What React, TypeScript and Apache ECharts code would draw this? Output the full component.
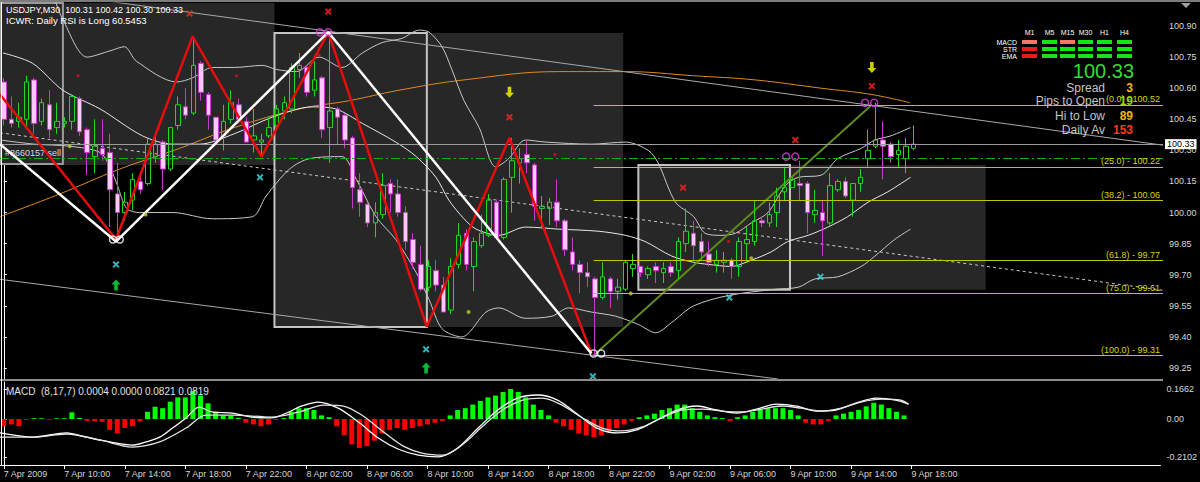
import React, { useEffect, useRef } from "react";
import * as echarts from "echarts";

const FONT = '"Liberation Sans", Arial, sans-serif';

// ---------- axis / tick labels ----------
const timeLabels = ["7 Apr 2009", "7 Apr 10:00", "7 Apr 14:00", "7 Apr 18:00", "7 Apr 22:00", "8 Apr 02:00", "8 Apr 06:00", "8 Apr 10:00", "8 Apr 14:00", "8 Apr 18:00", "8 Apr 22:00", "9 Apr 02:00", "9 Apr 06:00", "9 Apr 10:00", "9 Apr 14:00", "9 Apr 18:00"];
const barsPerLabel = 8;
const priceTicks = [99.25, 99.4, 99.55, 99.7, 99.85, 100.0, 100.15, 100.3, 100.45, 100.6, 100.75, 100.9];
const macdTicks = [-0.2102, 0, 0.1662];

// ---------- candles: [open, close, low, high] (M30 bars) ----------
const candles = [
  [100.63, 100.45, 100.42, 100.65], [100.45, 100.43, 100.41, 100.56], [100.44, 100.46, 100.41, 100.53], [100.45, 100.63, 100.41, 100.66],
  [100.64, 100.43, 100.38, 100.65], [100.44, 100.53, 100.42, 100.55], [100.52, 100.40, 100.36, 100.59], [100.41, 100.44, 100.38, 100.53],
  [100.43, 100.44, 100.41, 100.46], [100.44, 100.56, 100.40, 100.57], [100.55, 100.39, 100.37, 100.56], [100.40, 100.29, 100.18, 100.41],
  [100.27, 100.32, 100.19, 100.45], [100.31, 100.28, 100.25, 100.45], [100.29, 100.11, 99.93, 100.38], [100.09, 100.00, 99.87, 100.24],
  [100.00, 100.05, 99.96, 100.10], [100.06, 100.16, 100.01, 100.19], [100.15, 100.11, 100.09, 100.19], [100.14, 100.33, 100.13, 100.36],
  [100.27, 100.33, 100.24, 100.37], [100.34, 100.21, 100.11, 100.35], [100.21, 100.41, 100.20, 100.41], [100.42, 100.52, 100.40, 100.56],
  [100.51, 100.47, 100.45, 100.60], [100.48, 100.71, 100.47, 100.85], [100.72, 100.58, 100.54, 100.73], [100.57, 100.47, 100.40, 100.58],
  [100.46, 100.35, 100.33, 100.46], [100.37, 100.44, 100.30, 100.52], [100.45, 100.53, 100.43, 100.59], [100.52, 100.45, 100.43, 100.55],
  [100.44, 100.34, 100.34, 100.46], [100.35, 100.37, 100.29, 100.50], [100.34, 100.35, 100.27, 100.38], [100.37, 100.41, 100.36, 100.46],
  [100.42, 100.50, 100.40, 100.52], [100.49, 100.53, 100.45, 100.56], [100.50, 100.70, 100.48, 100.72], [100.69, 100.71, 100.65, 100.77],
  [100.70, 100.58, 100.56, 100.71], [100.59, 100.64, 100.56, 100.73], [100.65, 100.40, 100.36, 100.66], [100.41, 100.49, 100.24, 100.87],
  [100.50, 100.46, 100.33, 100.51], [100.47, 100.35, 100.31, 100.48], [100.36, 100.12, 100.02, 100.37], [100.11, 100.05, 99.98, 100.19],
  [100.04, 99.95, 99.93, 100.05], [99.95, 100.00, 99.88, 100.05], [99.99, 100.13, 99.97, 100.19], [100.14, 100.09, 100.00, 100.16],
  [100.09, 100.00, 99.98, 100.16], [100.00, 99.86, 99.82, 100.03], [99.87, 99.76, 99.73, 99.90], [99.75, 99.63, 99.62, 99.84],
  [99.64, 99.74, 99.62, 99.77], [99.72, 99.65, 99.62, 99.77], [99.65, 99.52, 99.52, 99.69], [99.53, 99.74, 99.51, 99.78],
  [99.75, 99.89, 99.73, 99.95], [99.90, 99.75, 99.72, 99.92], [99.74, 99.86, 99.62, 99.88], [99.84, 99.90, 99.83, 99.99],
  [99.89, 100.06, 99.88, 100.09], [100.05, 99.88, 99.87, 100.06], [99.88, 100.16, 99.87, 100.17], [100.17, 100.25, 100.00, 100.36],
  [100.24, 100.26, 100.14, 100.31], [100.28, 100.24, 100.19, 100.35], [100.23, 100.03, 99.96, 100.24], [100.02, 100.03, 99.93, 100.08],
  [100.02, 100.05, 99.94, 100.07], [100.05, 99.96, 99.93, 100.16], [99.96, 99.82, 99.79, 99.97], [99.81, 99.75, 99.72, 99.88],
  [99.75, 99.71, 99.61, 99.77], [99.71, 99.69, 99.64, 99.76], [99.68, 99.59, 99.31, 99.69], [99.59, 99.69, 99.58, 99.76],
  [99.68, 99.62, 99.54, 99.69], [99.62, 99.64, 99.58, 99.68], [99.63, 99.76, 99.62, 99.77], [99.73, 99.75, 99.69, 99.80],
  [99.74, 99.71, 99.69, 99.74], [99.70, 99.73, 99.68, 99.74], [99.74, 99.72, 99.66, 99.76], [99.71, 99.73, 99.66, 99.76],
  [99.74, 99.71, 99.69, 99.76], [99.72, 99.86, 99.68, 99.88], [99.85, 99.91, 99.81, 100.02], [99.90, 99.84, 99.77, 99.96],
  [99.86, 99.81, 99.77, 99.90], [99.80, 99.76, 99.74, 99.86], [99.75, 99.77, 99.71, 99.82], [99.76, 99.77, 99.71, 99.81],
  [99.77, 99.74, 99.68, 99.78], [99.74, 99.86, 99.69, 99.88], [99.85, 99.87, 99.76, 99.93], [99.86, 99.96, 99.84, 100.06],
  [99.96, 99.95, 99.93, 99.98], [99.95, 99.99, 99.93, 100.05], [100.00, 100.08, 99.93, 100.12], [100.10, 100.12, 100.06, 100.22],
  [100.12, 100.16, 100.12, 100.17], [100.14, 100.13, 100.06, 100.25], [100.14, 100.00, 99.90, 100.15], [99.99, 100.01, 99.95, 100.11],
  [100.00, 99.96, 99.79, 100.06], [99.95, 100.13, 99.94, 100.19], [100.11, 100.15, 100.10, 100.16], [100.15, 100.08, 100.07, 100.17],
  [100.06, 100.14, 99.98, 100.14], [100.14, 100.17, 100.10, 100.21], [100.26, 100.30, 100.22, 100.40], [100.32, 100.35, 100.31, 100.53],
  [100.35, 100.32, 100.16, 100.44], [100.33, 100.27, 100.24, 100.34], [100.28, 100.30, 100.22, 100.35], [100.26, 100.32, 100.19, 100.36],
  [100.31, 100.33, 100.30, 100.42],
];

// ---------- indicators: [bar index, price] ----------
const upperBand = [[6.7, 101.03], [7.8, 100.93], [11.0, 100.75], [14.0, 100.78], [15.9, 100.80], [17.5, 100.73], [22.8, 100.63], [24.9, 100.65], [27.5, 100.70], [30.4, 100.70], [34.1, 100.71], [36.0, 100.69], [38.6, 100.68], [41.6, 100.75], [44.6, 100.70], [47.3, 100.77], [49.9, 100.82], [52.5, 100.84], [54.8, 100.88], [56.1, 100.87], [57.8, 100.80], [59.1, 100.69], [60.7, 100.54], [62.7, 100.41], [64.9, 100.22], [66.6, 100.26], [68.8, 100.35], [71.5, 100.34], [77.5, 100.33], [82.0, 100.34], [85.0, 100.30], [86.3, 100.24], [88.6, 100.05], [91.0, 99.98], [92.5, 99.90], [94.6, 99.89], [96.5, 99.90], [98.6, 99.95], [100.8, 100.00], [103.1, 100.13], [104.8, 100.17], [107.8, 100.18], [110.0, 100.26], [113.1, 100.31], [114.9, 100.35], [117.0, 100.37], [119.6, 100.41]];
const middleBand = [[-0.1, 100.77], [3.8, 100.72], [7.8, 100.59], [12.7, 100.50], [18.3, 100.37], [22.3, 100.33], [25.8, 100.33], [30.4, 100.38], [35.4, 100.46], [40.7, 100.51], [43.8, 100.50], [47.3, 100.43], [51.7, 100.34], [54.4, 100.27], [57.0, 100.17], [58.7, 100.06], [60.7, 99.97], [62.3, 99.92], [65.3, 99.89], [68.8, 99.93], [73.2, 99.92], [78.4, 99.91], [82.0, 99.89], [84.6, 99.86], [88.1, 99.79], [91.0, 99.76], [92.9, 99.75], [95.9, 99.74], [98.6, 99.77], [101.2, 99.81], [103.4, 99.86], [106.1, 99.89], [108.7, 99.93], [111.3, 99.98], [114.0, 100.05], [116.6, 100.10], [119.6, 100.17]];
const lowerBand = [[-0.5, 100.35], [4.1, 100.33], [8.7, 100.32], [12.7, 100.29], [14.0, 100.22], [15.0, 100.13], [16.2, 100.02], [17.9, 100.00], [22.3, 100.00], [27.5, 99.97], [32.8, 99.98], [34.6, 100.08], [37.7, 100.21], [40.3, 100.26], [44.6, 100.27], [46.5, 100.16], [49.1, 99.98], [51.7, 99.87], [54.4, 99.71], [56.1, 99.58], [57.8, 99.44], [60.4, 99.40], [63.6, 99.52], [65.3, 99.54], [68.8, 99.49], [72.3, 99.50], [74.5, 99.54], [77.5, 99.52], [80.7, 99.50], [83.7, 99.46], [86.0, 99.42], [88.1, 99.47], [91.0, 99.55], [95.6, 99.60], [101.7, 99.63], [104.8, 99.64], [107.0, 99.68], [110.0, 99.69], [113.1, 99.74], [114.9, 99.79], [117.5, 99.87], [119.6, 99.92]];
const longMA = [[-0.5, 99.98], [7.4, 100.09], [15.3, 100.21], [23.2, 100.31], [30.4, 100.41], [39.0, 100.50], [45.6, 100.54], [52.1, 100.59], [60.7, 100.64], [73.2, 100.68], [82.0, 100.68], [91.0, 100.66], [99.1, 100.64], [107.8, 100.60], [114.4, 100.57], [119.5, 100.53]];

// ---------- drawn objects ----------
const channelTop = [[12.7, 101.025], [152.9, 100.325]];
const channelBottom = [[-0.5, 99.678], [102.1, 99.197]];
const midTrend = [[-0.5, 100.385], [152.9, 99.625]];
const zigzagRed = [[-0.5, 100.57], [14.8, 99.87], [24.9, 100.85], [34.0, 100.27], [42.8, 100.87], [55.8, 99.45], [66.7, 100.36], [77.5, 99.32]];
const zigzagWhite = [[-0.5, 100.33], [14.8, 99.86], [42.8, 100.87], [77.5, 99.32]];
const fibBase = [[77.8, 99.31], [114.5, 100.52]];
const fibLevels = [0.0, 25.0, 38.2, 61.8, 75.0, 100.0];
const fibPrices = [100.52, 100.22, 100.06, 99.77, 99.61, 99.31];
const fibStartBar = 77.8;
const orderPrice = 100.26;
const orderLabel = "#8660157 sell";
const bidPrice = 100.33;
// boxes: [fromBar, toBar, topPrice, bottomPrice]
const shadedBoxes = [[-0.5, 35.7, 101.011, 100.229], [35.7, 81.7, 100.866, 99.448], [83.7, 129.5, 100.229, 99.627]];
const framedBoxes = [[-0.5, 7.8, 101.011, 100.234], [35.7, 55.8, 100.866, 99.448], [83.7, 103.7, 100.229, 99.627]];

// markers [bar, price]
const crossRed = [[24.5, 100.96], [42.8, 100.97], [66.7, 100.46], [89.6, 100.12], [104.4, 100.35], [114.5, 100.61]];
const dotRed = [[9.8, 100.66], [30.7, 100.66], [41.6, 100.76], [72.7, 100.28], [95.6, 99.86]];
const crossCyan = [[14.8, 99.75], [33.8, 100.17], [55.7, 99.34], [77.7, 99.21], [95.7, 99.59], [107.7, 99.69]];
const arrowUp = [[14.8, 99.65], [55.7, 99.25]];
const arrowDown = [[66.7, 100.58], [114.5, 100.70]];
const ringMagenta = [[41.7, 100.87], [42.8, 100.87], [103.2, 100.27], [104.4, 100.27], [113.6, 100.53], [114.8, 100.53]];
const ringWhite = [[14.4, 99.87], [15.3, 99.87], [77.8, 99.32], [78.8, 99.32]];
const dotLime = [[8.7, 100.32], [18.7, 99.99], [61.3, 99.52], [82.7, 99.61], [98.6, 99.78]];

// ---------- MACD ----------
const macdHist = [
  -0.04, -0.03, -0.04, -0.004, 0.004, 0.004, -0.004, 0.004, 0.004, 0.037, 0.006, -0.01, -0.012, -0.015, -0.06, -0.08, -0.05, -0.04, -0.012, 0.04,
  0.068, 0.06, 0.096, 0.12, 0.12, 0.155, 0.13, 0.087, 0.04, 0.02, 0.018, 0.007, -0.02, -0.03, -0.04, -0.03, -0.005, 0.005, 0.04, 0.06,
  0.06, 0.05, 0.02, 0.01, -0.04, -0.09, -0.14, -0.16, -0.15, -0.12, -0.08, -0.06, -0.05, -0.06, -0.05, -0.04, -0.03, -0.02, -0.01, 0.02,
  0.05, 0.06, 0.08, 0.1, 0.12, 0.13, 0.15, 0.166, 0.15, 0.12, 0.08, 0.05, 0.02, -0.02, -0.04, -0.06, -0.08, -0.09, -0.1, -0.09,
  -0.07, -0.05, -0.03, -0.01, 0.01, 0.02, 0.03, 0.05, 0.06, 0.08, 0.08, 0.06, 0.04, 0.02, 0.01, 0.005, -0.01, 0.01, 0.02, 0.04,
  0.05, 0.06, 0.06, 0.06, 0.05, 0.02, -0.02, -0.03, -0.03, -0.01, 0.02, 0.03, 0.04, 0.05, 0.07, 0.09, 0.08, 0.06, 0.04, 0.02,
  0.0004,
];
const macdMain = [[-0.5, -0.077], [3.8, -0.10], [8.3, -0.077], [10.9, -0.10], [14.0, -0.127], [17.0, -0.144], [18.3, -0.133], [20.6, -0.10], [22.3, -0.05], [24.1, 0.006], [25.8, 0.066], [27.5, 0.039], [30.2, 0.033], [32.8, 0.011], [35.4, 0.006], [37.7, 0.039], [39.0, 0.066], [41.6, 0.094], [44.2, 0.06], [46.9, -0.017], [49.5, -0.105], [52.1, -0.166], [54.8, -0.2], [57.4, -0.21], [60.0, -0.16], [62.7, -0.05], [65.3, 0.05], [67.9, 0.116], [70.6, 0.133], [73.2, 0.105], [75.8, 0.028], [78.4, -0.05], [81.1, -0.077], [83.7, -0.06], [86.3, -0.006], [89.0, 0.05], [91.6, 0.072], [94.2, 0.05], [96.9, 0.033], [99.5, 0.055], [102.1, 0.083], [104.8, 0.072], [107.4, 0.044], [110.0, 0.05], [112.7, 0.089], [115.3, 0.116], [117.9, 0.105], [119.6, 0.083]];
const macdSignal = [[-0.5, -0.10], [3.8, -0.10], [8.3, -0.083], [12.7, -0.116], [17.0, -0.155], [20.6, -0.127], [24.1, -0.05], [26.7, 0.022], [30.2, 0.022], [35.4, 0.011], [39.0, 0.039], [42.3, 0.077], [44.9, 0.072], [47.5, 0.017], [50.2, -0.072], [52.8, -0.15], [55.4, -0.19], [58.1, -0.2], [60.7, -0.14], [63.3, -0.04], [65.9, 0.05], [68.6, 0.105], [71.2, 0.116], [73.8, 0.077], [76.5, 0.006], [79.1, -0.05], [81.7, -0.066], [84.4, -0.044], [87.0, 0.006], [89.6, 0.05], [92.3, 0.055], [94.9, 0.044], [97.5, 0.039], [100.2, 0.055], [102.8, 0.072], [105.4, 0.06], [108.1, 0.044], [110.7, 0.06], [113.3, 0.094], [116.0, 0.11], [118.6, 0.105], [119.6, 0.082]];
const macdParams = "(8,17,7)";
const macdReadout = [0.0004, 0.0, 0.0821, 0.0819];

// ---------- header / info panel ----------
const symbolName = "USDJPY,M30";
const rsiNote = "ICWR: Daily RSI is Long 60.5453";
const timeframes = ["M1", "M5", "M15", "M30", "H1", "H4"];
const signalRows = ["MACD", "STR", "EMA"];
const signalStates = [[0, 1, 0, 1, 1, 1], [-1, 1, 1, 1, 1, 1], [-1, 1, 1, 1, 1, 1]];
const statLabels = ["Spread", "Pips to Open", "Hi to Low", "Daily Av"];
const statValues = ["3", "19", "89", "153"];
const statColors = ["#f0b418", "#9ad400", "#f0b418", "#ff3a1a"];

const X_MIN = -0.5;
const X_MAX = 152.9;

function buildOption() {
  const last = candles[candles.length - 1];
  const readout = `${symbolName}  ${last[0].toFixed(2)} ${last[3].toFixed(2)} ${last[2].toFixed(2)} ${last[1].toFixed(2)}`;
  const labelPos = timeLabels.map((_, k) => k * barsPerLabel);

  const line = (data: number[][], color: string, width: number, extra: any = {}) => ({
    type: "line", xAxisIndex: 0, yAxisIndex: 0, data, symbol: "none", showSymbol: false, silent: true,
    lineStyle: { color, width }, z: 3, ...extra,
  });
  const scatter = (data: number[][], symbol: string, size: any, itemStyle: any) => ({
    type: "scatter", xAxisIndex: 0, yAxisIndex: 0, data, symbol, symbolSize: size, itemStyle, z: 10, silent: true,
  });
  const crossPath = "path://M0,2L2,0L5,3L8,0L10,2L7,5L10,8L8,10L5,7L2,10L0,8L3,5Z";
  const upPath = "path://M5,0L10,5L7,5L7,11L3,11L3,5L0,5Z";
  const downPath = "path://M3,0L7,0L7,6L10,6L5,11L0,6L3,6Z";

  const stateColor = (s: number) => (s > 0 ? "#14e614" : s === 0 ? "#f07868" : "#e81c1c");
  const colLeft = [1022, 1042, 1060, 1078, 1097, 1117];
  const rowTop = [40, 47, 54];

  const graphic: any[] = [
    { type: "rect", shape: { x: 0, y: 0, width: 1200, height: 2 }, style: { fill: "#7c7c7c" }, z: 100 },
    { type: "polygon", shape: { points: [[1181, 3], [1191, 3], [1186, 8]] }, style: { fill: "#a0a0a0" }, z: 100 },
    { type: "rect", shape: { x: 0, y: 379, width: 1163, height: 2 }, style: { fill: "#8c8c8c" }, z: 100 },
    { type: "line", shape: { x1: 1.5, y1: 2, x2: 1.5, y2: 465 }, style: { stroke: "#ffffff", lineWidth: 1 }, z: 100 },
    { type: "text", x: 6, y: 10, z: 100, style: { text: readout, fill: "#ffffff", fontSize: 9, fontFamily: FONT, verticalAlign: "middle" } },
    { type: "text", x: 6, y: 20, z: 100, style: { text: rsiNote, fill: "#ffffff", fontSize: 9.5, fontFamily: FONT, verticalAlign: "middle" } },
    { type: "text", x: 6, y: 391, z: 100, style: { text: `MACD  ${macdParams} ${macdReadout.map((v) => v.toFixed(4)).join(" ")}`, fill: "#e0e0e0", fontSize: 10, fontFamily: FONT, verticalAlign: "middle" } },
    { type: "text", x: 1134, y: 70.5, z: 100, style: { text: last[1].toFixed(2), fill: "#33dd33", fontSize: 20, fontFamily: FONT, align: "right", verticalAlign: "middle" } },
  ];
  timeframes.forEach((tf, c) => {
    graphic.push({ type: "text", x: colLeft[c] + 7.5, y: 32, z: 100, style: { text: tf, fill: "#ffffff", fontSize: 7, fontFamily: FONT, align: "center", verticalAlign: "middle" } });
  });
  signalRows.forEach((row, r) => {
    graphic.push({ type: "text", x: 1017, y: rowTop[r] + 2, z: 100, style: { text: row, fill: "#ffffff", fontSize: 7, fontFamily: FONT, align: "right", verticalAlign: "middle" } });
    signalStates[r].forEach((s, c) => {
      graphic.push({ type: "rect", z: 100, shape: { x: colLeft[c], y: rowTop[r], width: 15, height: 4 }, style: { fill: stateColor(s) } });
    });
  });
  const statY = [87.5, 101, 115.5, 129.5];
  statLabels.forEach((lab, k) => {
    graphic.push({ type: "text", x: 1105, y: statY[k], z: 100, style: { text: lab, fill: "#c4c4c4", fontSize: 12, fontFamily: FONT, align: "right", verticalAlign: "middle" } });
    graphic.push({ type: "text", x: 1133, y: statY[k], z: 100, style: { text: statValues[k], fill: statColors[k], fontSize: 12, fontWeight: "bold", fontFamily: FONT, align: "right", verticalAlign: "middle" } });
  });

  const series: any[] = [
    {
      type: "line", xAxisIndex: 0, yAxisIndex: 0, data: [], z: 0, silent: true,
      markArea: {
        silent: true,
        data: [
          ...shadedBoxes.map((b) => [{ coord: [b[0], b[2]], itemStyle: { color: "#272727", borderWidth: 0 } }, { coord: [b[1], b[3]] }]),
          ...framedBoxes.map((b, k) => [{ coord: [b[0], b[2]], itemStyle: { color: "rgba(0,0,0,0)", borderColor: k === 0 ? "#9a9a9a" : "#c4c4c4", borderWidth: 2 } }, { coord: [b[1], b[3]] }]),
        ],
      },
    },
    line(channelTop, "#a8a8a8", 1),
    line(channelBottom, "#a8a8a8", 1),
    line(midTrend, "#c8c8c8", 1, { lineStyle: { color: "#c8c8c8", width: 1, type: [3, 3] } }),
    line(longMA, "#e08a1e", 1, { smooth: 0.4 }),
    line(upperBand, "#c8c8c8", 1, { smooth: 0.3 }),
    line(middleBand, "#e8e8e8", 1, { smooth: 0.3 }),
    line(lowerBand, "#c8c8c8", 1, { smooth: 0.3 }),
    {
      ...line(fibBase, "#5e8c1c", 2),
      markLine: {
        silent: true, symbol: ["none", "none"],
        lineStyle: { color: "#c4c400", width: 1, type: "solid" },
        label: {
          position: "insideEndTop", color: "#d6d600", fontSize: 9, fontFamily: FONT, distance: [3, 1],
          formatter: (p: any) => `(${fibLevels[p.dataIndex].toFixed(1)}) - ${fibPrices[p.dataIndex].toFixed(2)}`,
        },
        data: fibLevels.map((_, k) => [{ coord: [fibStartBar, fibPrices[k]] }, { coord: [X_MAX, fibPrices[k]] }]),
      },
    },
    {
      type: "line", xAxisIndex: 0, yAxisIndex: 0, data: [], z: 3, silent: true,
      markLine: {
        silent: true, symbol: ["none", "none"],
        data: [
          {
            yAxis: orderPrice,
            lineStyle: { color: "#12b012", width: 1, type: [9, 3, 2, 3] },
            label: { position: "insideStartTop", formatter: orderLabel, color: "#d8d8d8", fontSize: 9, fontFamily: FONT, distance: [5, 1] },
          },
          {
            yAxis: bidPrice,
            lineStyle: { color: "#9c9c9c", width: 1, type: "solid" },
            label: { position: "end", formatter: bidPrice.toFixed(2), color: "#000000", backgroundColor: "#ffffff", padding: [1, 2, 0, 2], fontSize: 9, fontFamily: FONT, distance: 2 },
          },
        ],
      },
    },
    {
      type: "candlestick", xAxisIndex: 0, yAxisIndex: 0, barWidth: 5, z: 4, silent: true,
      data: candles.map((c, i) => [i, c[0], c[1], c[2], c[3]]),
      itemStyle: { color: "rgba(0,0,0,0)", color0: "#ffc8ff", borderColor: "#20d820", borderColor0: "#c83cc8", borderWidth: 1 },
    },
    line(zigzagRed, "#e80c0c", 2.5, { z: 6 }),
    line(zigzagWhite, "#ffffff", 2.5, { z: 6 }),
    scatter(crossRed, crossPath, 7, { color: "#ff2424" }),
    scatter(dotRed, "circle", 3, { color: "#e01818" }),
    scatter(crossCyan, crossPath, 7, { color: "#40e0e8" }),
    scatter(arrowUp, upPath, [9, 11], { color: "#10e840" }),
    scatter(arrowDown, downPath, [9, 11], { color: "#ffff00" }),
    scatter(ringMagenta, "circle", 7, { color: "rgba(0,0,0,0)", borderColor: "#e040e0", borderWidth: 1.5 }),
    scatter(ringWhite, "circle", 7, { color: "rgba(0,0,0,0)", borderColor: "#ffffff", borderWidth: 1.5 }),
    scatter(dotLime, "circle", 4, { color: "#b0d030" }),
    {
      type: "bar", xAxisIndex: 1, yAxisIndex: 1, barWidth: 5, silent: true,
      data: macdHist.map((v, i) => ({ value: [i, v], itemStyle: { color: v >= 0 ? "#00ff00" : "#ff0000" } })),
    },
    { type: "line", xAxisIndex: 1, yAxisIndex: 1, data: macdMain, symbol: "none", smooth: 0.3, silent: true, lineStyle: { color: "#ffffff", width: 1.3 }, z: 5 },
    { type: "line", xAxisIndex: 1, yAxisIndex: 1, data: macdSignal, symbol: "none", smooth: 0.3, silent: true, lineStyle: { color: "#e4e4e4", width: 1.3 }, z: 5 },
  ];

  return {
    animation: false,
    backgroundColor: "#000000",
    textStyle: { fontFamily: FONT },
    grid: [
      { left: 0, top: 3, width: 1163, height: 376 },
      { left: 0, top: 382, width: 1163, height: 83 },
    ],
    xAxis: [
      { gridIndex: 0, type: "value", min: X_MIN, max: X_MAX, show: false },
      {
        gridIndex: 1, type: "value", min: X_MIN, max: X_MAX,
        axisLine: { show: true, onZero: false, lineStyle: { color: "#ffffff" } },
        axisTick: { show: true, customValues: labelPos, length: 4, lineStyle: { color: "#ffffff" } },
        axisLabel: {
          customValues: labelPos, align: "left", color: "#d4d4d4", fontSize: 9, fontFamily: FONT, margin: 4,
          formatter: (v: number) => timeLabels[Math.round(v / barsPerLabel)] ?? "",
        },
        splitLine: { show: false },
      },
    ],
    yAxis: [
      {
        gridIndex: 0, type: "value", position: "right", min: 99.197, max: 101.011,
        splitLine: { show: false },
        axisLine: { show: true, lineStyle: { color: "#ffffff" } },
        axisTick: { show: true, customValues: priceTicks, length: 3, lineStyle: { color: "#ffffff" } },
        axisLabel: { customValues: priceTicks, color: "#d8d8d8", fontSize: 9, fontFamily: FONT, margin: 6, formatter: (v: number) => v.toFixed(2) },
      },
      {
        gridIndex: 1, type: "value", position: "right", min: -0.2545, max: 0.205,
        splitLine: { show: false },
        axisLine: { show: true, lineStyle: { color: "#ffffff" } },
        axisTick: { show: true, customValues: macdTicks, length: 3, lineStyle: { color: "#ffffff" } },
        axisLabel: { customValues: macdTicks, color: "#d8d8d8", fontSize: 9, fontFamily: FONT, margin: 6, formatter: (v: number) => (v === 0 ? "0.00" : v.toFixed(4)) },
      },
    ],
    graphic,
    series,
  };
}

export default function App() {
  const ref = useRef<HTMLDivElement>(null);
  useEffect(() => {
    if (!ref.current) return;
    const chart = echarts.init(ref.current, null, { renderer: "svg" });
    chart.setOption(buildOption() as any);
    return () => chart.dispose();
  }, []);
  return <div ref={ref} style={{ position: "fixed", left: 0, top: 0, width: 1200, height: 482, background: "#000" }} />;
}
